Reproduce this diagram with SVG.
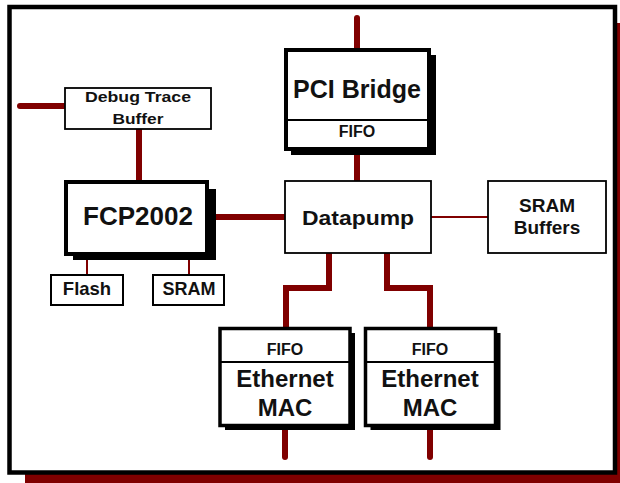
<svg xmlns="http://www.w3.org/2000/svg" width="620" height="483" viewBox="0 0 620 483">
<style>
text{font-family:"Liberation Sans",Arial,sans-serif;font-weight:bold;fill:#111;text-anchor:middle}
.box{fill:#fff;stroke:#000}
.shd{fill:#000}
.thick{stroke:#800000;stroke-width:6;stroke-linecap:round;stroke-linejoin:miter;fill:none}
.thin{stroke:#800000;stroke-width:2;fill:none}
</style>
<rect x="25" y="23" width="600" height="470" fill="#800000"/>
<rect x="9.5" y="7" width="605.5" height="465.5" fill="#fff" stroke="#000" stroke-width="4.5"/>
<g id="connectors">
<line class="thick" x1="357" y1="18" x2="357" y2="50"/>
<line class="thick" x1="20" y1="106" x2="65" y2="106"/>
<line class="thick" x1="139" y1="129" x2="139" y2="182"/>
<line class="thick" x1="211" y1="217" x2="286" y2="217"/>
<line class="thick" x1="357" y1="150" x2="357" y2="182"/>
<line class="thin" x1="431" y1="217" x2="488" y2="217"/>
<line class="thin" x1="87" y1="256" x2="87" y2="275"/>
<line class="thin" x1="189" y1="256" x2="189" y2="275"/>
<polyline class="thick" points="329,253 329,288 286,288 286,328"/>
<polyline class="thick" points="387,253 387,288 430,288 430,328"/>
<line class="thick" x1="285" y1="427" x2="285" y2="457"/>
<line class="thick" x1="430" y1="427" x2="430" y2="457"/>
</g>
<g id="debug">
<rect class="box" x="65" y="88" width="146" height="41" stroke-width="1.8"/>
<text x="138" y="102" font-size="15.5" textLength="106" lengthAdjust="spacingAndGlyphs">Debug Trace</text>
<text x="138" y="124" font-size="15.5" textLength="51" lengthAdjust="spacingAndGlyphs">Buffer</text>
</g>
<g id="fcp">
<rect class="shd" x="73" y="189" width="143" height="71"/>
<rect class="box" x="66" y="182" width="141" height="72" stroke-width="4"/>
<text x="138" y="225" font-size="26">FCP2002</text>
</g>
<g id="flash">
<rect class="box" x="51" y="275" width="72" height="30" stroke-width="2"/>
<text x="87" y="295" font-size="18.5">Flash</text>
</g>
<g id="sram">
<rect class="box" x="153" y="275" width="71" height="30" stroke-width="2"/>
<text x="189" y="295" font-size="18">SRAM</text>
</g>
<g id="pci">
<rect class="shd" x="291" y="55" width="145" height="100"/>
<rect class="box" x="286" y="50" width="143" height="99" stroke-width="4"/>
<line x1="286" y1="120" x2="429" y2="120" stroke="#000" stroke-width="2"/>
<text x="357" y="98" font-size="25">PCI Bridge</text>
<text x="357" y="137" font-size="16">FIFO</text>
</g>
<g id="datapump">
<rect class="box" x="285" y="181" width="146" height="72" stroke-width="1.8"/>
<text x="358" y="225" font-size="20" textLength="112" lengthAdjust="spacingAndGlyphs">Datapump</text>
</g>
<g id="srambuf">
<rect class="box" x="488" y="181" width="118" height="72" stroke-width="1.8"/>
<text x="547" y="212" font-size="19">SRAM</text>
<text x="547" y="234" font-size="19">Buffers</text>
</g>
<g id="eth1">
<rect class="shd" x="225" y="333" width="130" height="97"/>
<rect class="box" x="220" y="328.5" width="130" height="97" stroke-width="3.5"/>
<line x1="220" y1="362" x2="350" y2="362" stroke="#000" stroke-width="2"/>
<text x="285" y="355" font-size="16">FIFO</text>
<text x="285" y="387" font-size="24">Ethernet</text>
<text x="285" y="416" font-size="24">MAC</text>
</g>
<g id="eth2">
<rect class="shd" x="370.5" y="333" width="130" height="97"/>
<rect class="box" x="365.5" y="328.5" width="130" height="97" stroke-width="3.5"/>
<line x1="365.5" y1="362" x2="495.5" y2="362" stroke="#000" stroke-width="2"/>
<text x="430" y="355" font-size="16">FIFO</text>
<text x="430" y="387" font-size="24">Ethernet</text>
<text x="430" y="416" font-size="24">MAC</text>
</g>
</svg>
